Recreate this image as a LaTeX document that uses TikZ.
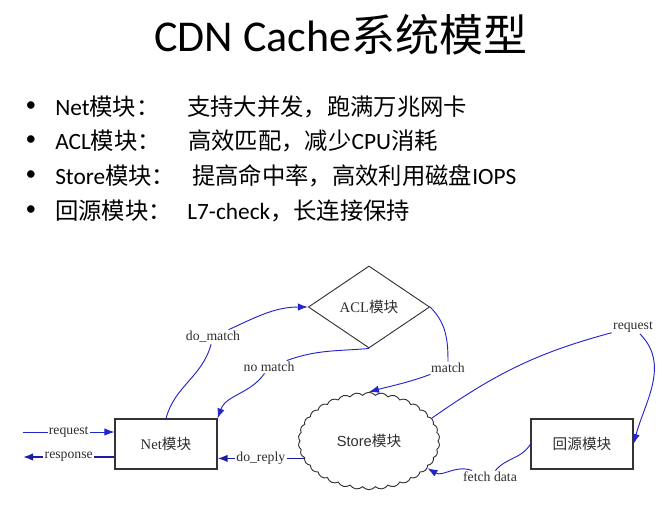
\documentclass[tikz,border=0pt]{standalone}
\usepackage{fontspec}
\usepackage{tikz}
\usepackage{xcolor}
\setmainfont{Liberation Serif}
\newfontfamily\slidefont{Carlito}
\newfontfamily\cjk{Noto Sans CJK SC}
\newfontfamily\plainsans{Liberation Sans}
\usetikzlibrary{arrows.meta,shapes.geometric,shapes.symbols}
\definecolor{flowblue}{HTML}{2424CC}
\definecolor{inkgray}{HTML}{2E2E2E}
\newcommand{\zh}[1]{{\cjk #1}}

\begin{document}
\begin{tikzpicture}[x=0.75pt, y=-0.75pt, >={Latex[length=7.5pt,width=5.5pt]}]
\tikzstyle{bullet}=[inner sep=0, font=\slidefont\fontsize{16}{18}\selectfont]
\tikzstyle{item}=[anchor=west, inner sep=0, font=\slidefont\fontsize{17.5}{20}\selectfont]
\tikzstyle{box}=[draw=black!80, line width=0.8pt, minimum width=76.5pt, minimum height=37.5pt, font=\fontsize{11}{13}\selectfont, text=inkgray]
\tikzstyle{lbl}=[inner sep=1pt, font=\fontsize{10.3}{12}\selectfont, text=inkgray]
\tikzstyle{flow}=[draw=flowblue, line width=0.7pt]
\tikzstyle{backflow}=[draw=flowblue!80!black, line width=1.1pt]
\useasboundingbox (0,0) rectangle (671,507);
% title and bullet list
\node[font=\slidefont\fontsize{33}{40}\selectfont] (title) at (341,35) {CDN Cache\zh{系统模型}};
\node[bullet] (b1) at (31,107) {•};
\node[bullet] (b2) at (31,141) {•};
\node[bullet] (b3) at (31,176) {•};
\node[bullet] (b4) at (31,211) {•};
\node[item] (k1) at (55,107) {Net\zh{模块：}};
\node[item] (k2) at (55,141) {ACL\zh{模块：}};
\node[item] (k3) at (55,176) {Store\zh{模块：}};
\node[item] (k4) at (55,211) {\zh{回源模块：}};
\node[item] (d1) at (187,107) {\zh{支持大并发，跑满万兆网卡}};
\node[item] (d2) at (188,141) {\zh{高效匹配，减少}CPU\zh{消耗}};
\node[item] (d3) at (192,176) {\zh{提高命中率，高效利用磁盘}IOPS};
\node[item] (d4) at (187,211) {L7-check\zh{，长连接保持}};
% modules
\node[box] (net) at (166,444) {Net\zh{模块}};
\node[box] (origin) at (582,444) {\zh{回源模块}};
\node[diamond, draw=black!80, line width=0.7pt, aspect=1.5, inner sep=0, minimum width=91pt, minimum height=61.5pt, font=\fontsize{11}{13}\selectfont, text=inkgray] (acl) at (369,307) {ACL\zh{模块}};
\node[cloud, draw=black!80, line width=0.7pt, cloud puffs=34, cloud puff arc=100, aspect=1.5, minimum width=106pt, minimum height=73pt, font=\plainsans\fontsize{11}{13}\selectfont, text=inkgray] (store) at (369,441) {Store\zh{模块}};
% labels on the flows
\node[lbl] (domatch) at (213,337) {do\_match};
\node[lbl] (nomatch) at (269,367) {no match};
\node[lbl] (match) at (448,368) {match};
\node[lbl] (req) at (633,327) {request};
\node[lbl] (fetch) at (490,477) {fetch data};
\coordinate (clientin) at (23,432);
\coordinate (clientout) at (23,457);
% flows
\draw[flow,->] (clientin) -- node[lbl, fill=white] {request} (clientin -| net.west);
\draw[backflow,->] (clientout -| net.west) -- node[lbl, fill=white] {response} (clientout);
\draw[backflow,->] (store.195) -- node[lbl, fill=white] {do\_reply} (store.195 -| net.east);
\draw[flow] (net.north) to[out=75, in=255] (domatch);
\draw[flow,->] (domatch) to[out=25, in=180] (acl.west);
\draw[flow] (acl.south) to[out=185, in=20] (nomatch);
\draw[flow,->] (nomatch) to[out=235, in=70] (net.north east);
\draw[flow] (acl.east) to[out=-45, in=90] (match);
\draw[flow,->] (match) to[out=200, in=15] (store.north);
\draw[flow] (store.20) to[out=35, in=195] (req);
\draw[flow,->] (req) to[out=-45, in=75] (origin.east);
\draw[flow] (origin.west) to[out=240, in=50] (fetch);
\draw[flow,->] (fetch) to[out=160, in=-30] (store.-25);
\end{tikzpicture}
\end{document}
